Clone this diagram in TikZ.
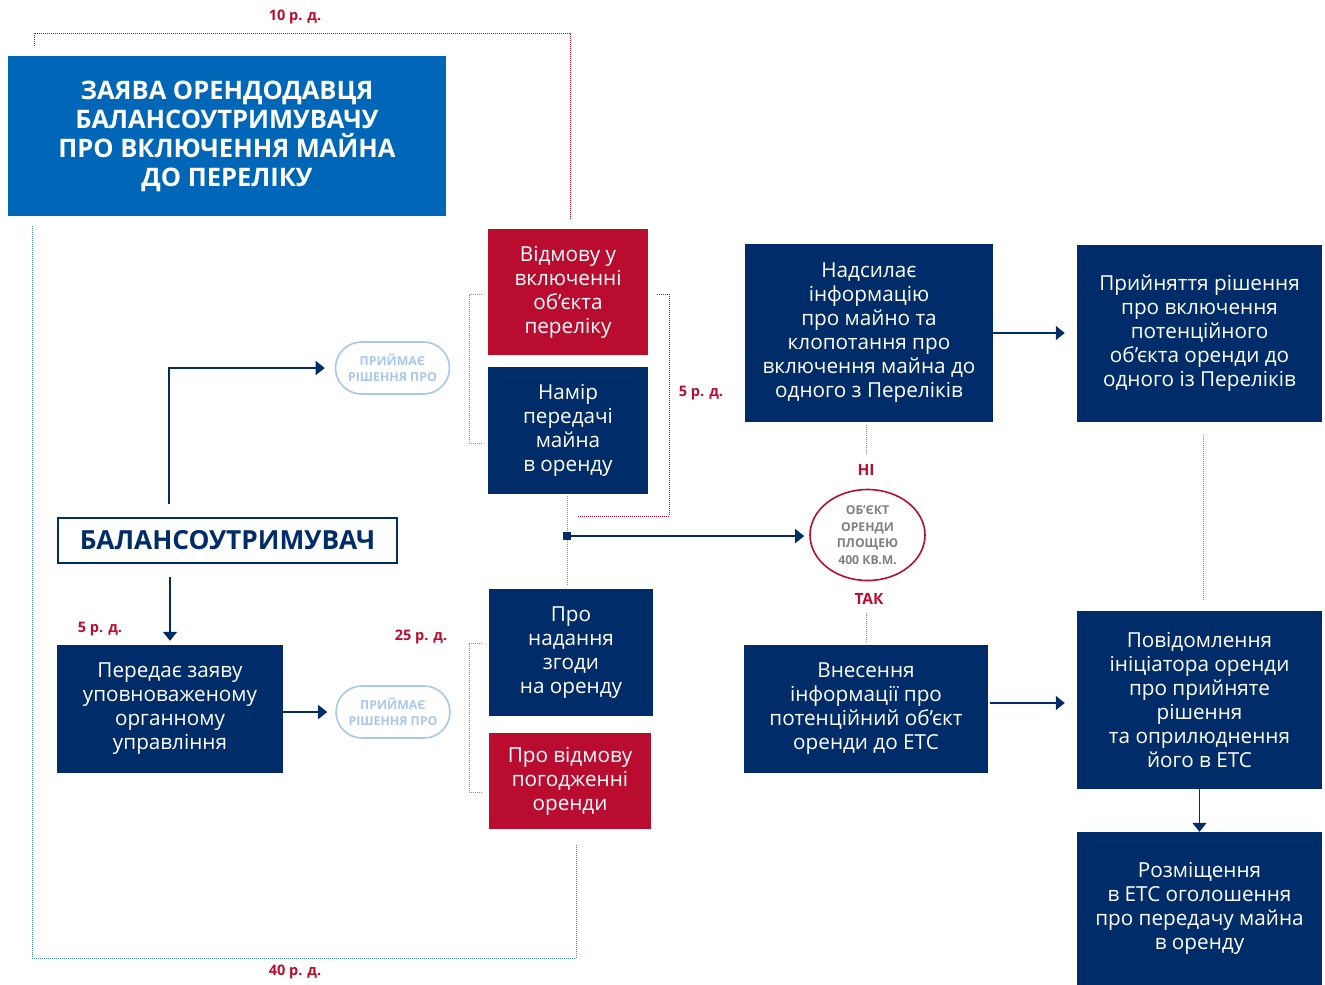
\documentclass[tikz,border=0pt]{standalone}
\usepackage{fontspec}
\setmainfont{Open Sans}
\usetikzlibrary{arrows.meta,calc,shapes.geometric}
\definecolor{navy}{RGB}{0,45,106}
\definecolor{crimson}{RGB}{186,12,47}
\definecolor{royal}{RGB}{0,103,184}
\definecolor{pale}{RGB}{168,199,238}
\definecolor{greytxt}{RGB}{128,128,128}
\definecolor{dotgrey}{RGB}{140,140,140}
\definecolor{dotblue}{RGB}{70,130,200}
\tikzset{
  boxbase/.style={inner sep=0pt, align=center, text=white,
     font=\fontsize{20.7}{24}\selectfont},
  navybox/.style={boxbase, fill=navy},
  redbox/.style={boxbase, fill=crimson},
  pillbox/.style={draw=pale, line width=1.6pt, rounded corners=26pt, inner sep=0pt,
     minimum width=114pt, minimum height=52pt, align=center, text=pale,
     font=\fontsize{12.3}{16}\selectfont\bfseries},
  lbl/.style={text=crimson, font=\fontsize{14.5}{16}\selectfont\bfseries, inner sep=0pt},
  arr/.style={draw=navy, line width=1.5pt, -{Triangle[width=14pt,length=9pt]}},
  reddot/.style={draw=crimson, line width=1pt, dash pattern=on 1pt off 1pt},
  greydot/.style={draw=dotgrey, line width=1pt, dash pattern=on 1pt off 1pt},
  bluedot/.style={draw=dotblue, line width=1pt, dash pattern=on 1pt off 1pt},
}
\begin{document}
\begin{tikzpicture}[x=1pt,y=-1pt]
\useasboundingbox (0,0) rectangle (1325,985);

% boxes
\node[boxbase, fill=royal, minimum width=438pt, minimum height=160pt,
      font=\fontsize{25.5}{29}\selectfont\bfseries] (zayava) at (227,136)
  {ЗАЯВА ОРЕНДОДАВЦЯ\\БАЛАНСОУТРИМУВАЧУ\\ПРО ВКЛЮЧЕННЯ МАЙНА\\ДО ПЕРЕЛІКУ};
\node[redbox, minimum width=160pt, minimum height=126pt] (vidm1) at (568,292)
  {Відмову у\\включенні\\об’єкта\\переліку};
\node[navybox, minimum width=160pt, minimum height=127pt] (namir) at (568,430.5)
  {Намір\\передачі\\майна\\в оренду};
\node[pillbox] (pill1) at (392.5,368) {ПРИЙМАЄ\\РІШЕННЯ ПРО};
\node[draw=navy, line width=2pt, fill=white, minimum width=339pt, minimum height=45pt,
      inner sep=0pt, text=navy, font=\fontsize{26.3}{28}\selectfont\bfseries] (bal) at (227.5,540.5)
  {БАЛАНСОУТРИМУВАЧ};
\node[navybox, minimum width=226pt, minimum height=128pt] (pered) at (170,709)
  {Передає заяву\\уповноваженому\\органному\\управління};
\node[pillbox] (pill2) at (393,712) {ПРИЙМАЄ\\РІШЕННЯ ПРО};
\node[navybox, minimum width=164pt, minimum height=127pt] (zgoda) at (571,652.5)
  {Про\\надання\\згоди\\на оренду};
\node[redbox, minimum width=162pt, minimum height=96pt] (vidm2) at (570,781)
  {Про відмову\\погодженні\\оренди};
\node[ellipse, draw=crimson, line width=1.6pt, minimum width=115pt, minimum height=91pt,
      inner sep=0pt, align=center, text=greytxt,
      font=\fontsize{12.2}{16.5}\selectfont\bfseries] (circ) at (867.5,535)
  {ОБ’ЄКТ\\ОРЕНДИ\\ПЛОЩЕЮ\\400 КВ.М.};
\node[navybox, minimum width=248pt, minimum height=178pt] (nads) at (869,333)
  {Надсилає\\інформацію\\про майно та\\клопотання про\\включення майна до\\одного з Переліків};
\node[navybox, minimum width=245pt, minimum height=177pt] (pryin) at (1199.5,333.5)
  {Прийняття рішення\\про включення\\потенційного\\об’єкта оренди до\\одного із Переліків};
\node[navybox, minimum width=244pt, minimum height=128pt] (vnes) at (866,709)
  {Внесення\\інформації про\\потенційний об’єкт\\оренди до ЕТС};
\node[navybox, minimum width=245pt, minimum height=178pt] (povid) at (1199.5,700)
  {Повідомлення\\ініціатора оренди\\про прийняте\\рішення\\та оприлюднення\\його в ЕТС};
\node[navybox, minimum width=245pt, minimum height=153pt] (rozm) at (1199.5,908.5)
  {Розміщення\\в ЕТС оголошення\\про передачу майна\\в оренду};

% labels
\node[lbl] (l10) at (295,17) {10 р. д.};
\node[lbl] (l40) at (295,972) {40 р. д.};
\node[lbl] (l5a) at (701,393) {5 р. д.};
\node[lbl] (l5b) at (100,629) {5 р. д.};
\node[lbl] (l25) at (421,637) {25 р. д.};
\node[lbl, font=\fontsize{15.5}{17}\selectfont\bfseries] (ni) at (866,470) {НІ};
\node[lbl, font=\fontsize{15.5}{17}\selectfont\bfseries] (tak) at (869,599) {ТАК};

% dotted brackets
\draw[reddot] (34,46) -- (34,33) -- (570,33) -- (570,220);
\draw[bluedot] (32,226) -- (32,958) -- (576,958) -- (576,845);
\draw[greydot] (482,294) -- (469,294) -- (469,443) -- (482,443);
\draw[greydot] (482,643) -- (469,643) -- (469,792) -- (482,792);
\draw[reddot] (657,294) -- (669,294) -- (669,516) -- (578,516);
\draw[greydot] (567,496) -- (567,585);
\draw[greydot] (866,425) -- (866,455);
\draw[greydot] (866,613) -- (866,643);
\draw[greydot] (1203,435) -- (1203,600);

% junction square
\node[fill=navy, minimum size=8pt, inner sep=0pt] (sq) at (567,536) {};

% arrows
\draw[arr] ([xshift=112pt,yshift=13pt]bal.north west) |- ([xshift=-10pt]pill1.west);
\draw[arr] ($(pered.north)+(0,-68)$) -- ($(pered.north)+(0,-4)$);
\draw[arr] (pered.east |- pill2.west) -- ([xshift=-8pt]pill2.west);
\draw[arr] (sq.center) -- ([xshift=-5pt]sq.center -| circ.west);
\draw[arr] (nads.east) -- ([xshift=-12pt]nads.east -| pryin.west);
\draw[arr] ([xshift=2pt,yshift=6pt]vnes.east) -- ([xshift=-12pt,yshift=-3pt]povid.west);
\draw[arr] (povid.south) -- (rozm.north);
\end{tikzpicture}
\end{document}
